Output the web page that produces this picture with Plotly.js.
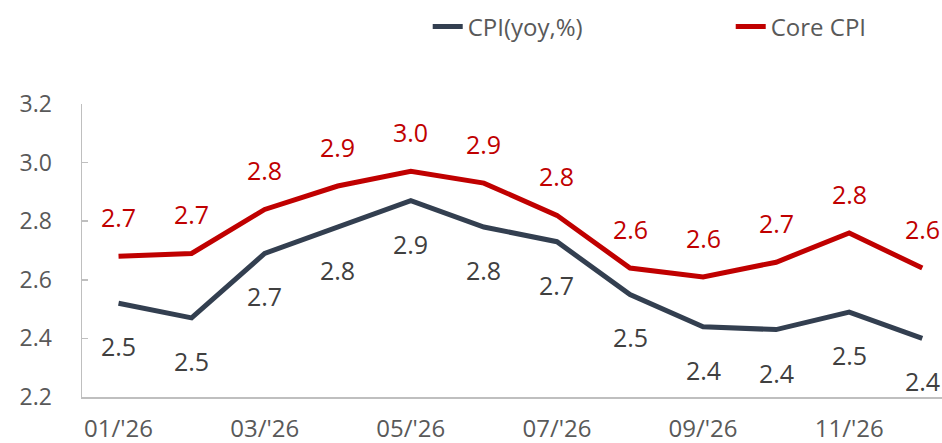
<!DOCTYPE html>
<html>
<head>
<meta charset="utf-8">
<script src="https://cdn.plot.ly/plotly-3.0.1.min.js"></script>
<style>html,body{margin:0;padding:0;background:#fff;}#chart{width:942px;height:443px;}</style>
</head>
<body>
<div id="chart"></div>
<script>
const months = ["01/'26","02/'26","03/'26","04/'26","05/'26","06/'26","07/'26","08/'26","09/'26","10/'26","11/'26","12/'26"];
const cpi = [2.52, 2.47, 2.69, 2.78, 2.87, 2.78, 2.73, 2.55, 2.44, 2.43, 2.49, 2.40];
const core = [2.68, 2.69, 2.84, 2.92, 2.97, 2.93, 2.82, 2.64, 2.61, 2.66, 2.76, 2.64];
const tickMonths = months.filter((m, i) => i % 2 === 0);
const seriesNames = ["CPI(yoy,%)", "Core CPI"];

const FONT = "'Open Sans', 'Noto Sans', sans-serif";
const cpiColor = "#333F50";
const coreColor = "#C00000";

const traces = [
  {x: months, y: cpi, name: seriesNames[0], type: "scatter", mode: "lines",
   line: {color: cpiColor, width: 5}},
  {x: months, y: core, name: seriesNames[1], type: "scatter", mode: "lines",
   line: {color: coreColor, width: 5}}
];

const annotations = [];
months.forEach((m, i) => {
  annotations.push({x: m, y: cpi[i], xref: "x", yref: "y", text: cpi[i].toFixed(1),
    showarrow: false, yshift: -43, font: {family: FONT, size: 25, color: "#404040"}});
  annotations.push({x: m, y: core[i], xref: "x", yref: "y", text: core[i].toFixed(1),
    showarrow: false, yshift: 39, font: {family: FONT, size: 25, color: coreColor}});
});

const layout = {
  width: 942, height: 443,
  margin: {l: 82, r: 0, t: 104, b: 46, autoexpand: false},
  paper_bgcolor: "#fff", plot_bgcolor: "#fff",
  font: {family: FONT, color: "#595959"},
  showlegend: true,
  legend: {orientation: "h", x: 0.402, xanchor: "left", y: 1.263, yanchor: "middle",
    font: {family: FONT, size: 24, color: "#595959"}, entrywidth: 258, itemwidth: 30,
    bgcolor: "rgba(0,0,0,0)"},
  xaxis: {type: "category", range: [-0.5, 11.27], tickvals: tickMonths, ticktext: tickMonths,
    showline: true, linecolor: "#BFBFBF", linewidth: 1.5, ticks: "", showgrid: false,
    zeroline: false, ticklabelstandoff: 10, tickfont: {family: FONT, size: 24, color: "#595959"},
    fixedrange: true},
  yaxis: {range: [2.2, 3.2], tickvals: [2.2, 2.4, 2.6, 2.8, 3.0, 3.2], tickformat: ".1f",
    showline: true, linecolor: "#BFBFBF", linewidth: 1.5, ticks: "inside", ticklen: 6,
    tickcolor: "#BFBFBF", tickwidth: 1.5, showgrid: false, zeroline: false,
    ticklabelstandoff: 24, tickfont: {family: FONT, size: 23, color: "#595959"}, fixedrange: true},
  annotations: annotations
};

Plotly.newPlot("chart", traces, layout, {displayModeBar: false, staticPlot: true});
</script>
</body>
</html>
